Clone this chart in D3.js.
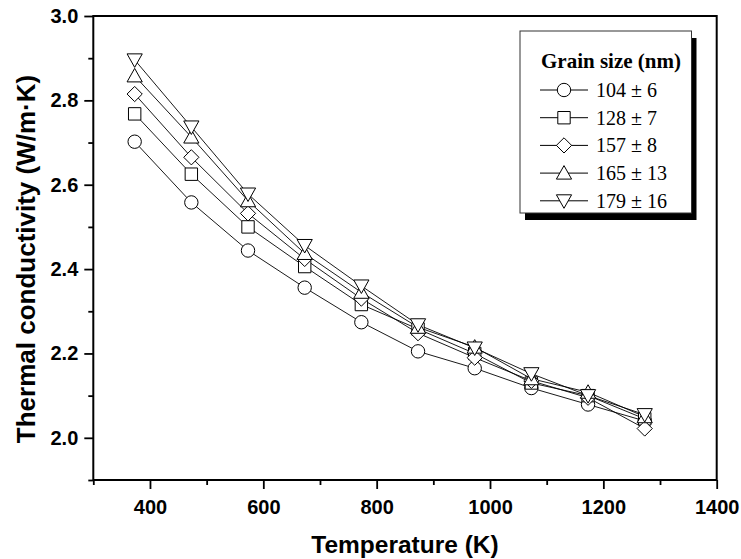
<!DOCTYPE html>
<html>
<head>
<meta charset="utf-8">
<script src="https://cdn.jsdelivr.net/npm/d3@7"></script>
<style>
  body { margin: 0; background: #fff; }
</style>
</head>
<body>
<svg id="chart" width="741" height="559"></svg>
<script>
const svg = d3.select('#chart')

// data
const temps = [373, 473, 573, 673, 773, 873, 973, 1073, 1173, 1273]
const grainLabels = ['104 \u00b1 6', '128 \u00b1 7', '157 \u00b1 8', '165 \u00b1 13', '179 \u00b1 16']
const k104 = [2.702, 2.558, 2.444, 2.356, 2.274, 2.205, 2.165, 2.118, 2.079, 2.040]
const k128 = [2.768, 2.625, 2.500, 2.406, 2.316, 2.258, 2.200, 2.130, 2.100, 2.045]
const k157 = [2.815, 2.665, 2.532, 2.424, 2.330, 2.248, 2.190, 2.135, 2.095, 2.022]
const k165 = [2.858, 2.713, 2.562, 2.437, 2.345, 2.262, 2.215, 2.140, 2.108, 2.050]
const k179 = [2.896, 2.737, 2.578, 2.456, 2.360, 2.268, 2.213, 2.152, 2.100, 2.055]
const xMajor = [400, 600, 800, 1000, 1200, 1400]
const xMinor = [300, 500, 700, 900, 1100, 1300]
const yMajor = [2.0, 2.2, 2.4, 2.6, 2.8, 3.0]
const yMinor = [1.9, 2.1, 2.3, 2.5, 2.7, 2.9]

const series = [k104, k128, k157, k165, k179]
const shapes = ['circle', 'square', 'diamond', 'up', 'down']

const padL = 93.3, padR = 716.7, padT = 16, padB = 480
const sans = '"Liberation Sans", Arial, sans-serif'
const serif = '"Liberation Serif", "Times New Roman", serif'

const x = d3.scaleLinear().domain([300, 1400]).range([padL, padR])
const y = d3.scaleLinear().domain([1.9, 3.0]).range([padB, padT])

// marker outlines
const markerPath = (shape) => {
	if (shape == 'circle') return d3.arc()({innerRadius: 0, outerRadius: 6.7, startAngle: 0, endAngle: 2 * Math.PI})
	if (shape == 'square') return 'M-6.2,-6.2H6.2V6.2H-6.2Z'
	if (shape == 'diamond') return 'M0,-7.6L7.6,0L0,7.6L-7.6,0Z'
	if (shape == 'up') return 'M0,-7.5L7.6,6L-7.6,6Z'
	return 'M0,7.5L7.6,-6L-7.6,-6Z'
}

// minor ticks
svg.append('g')
	.attr('transform', `translate(0, ${padB})`)
	.call(d3.axisBottom(x).tickValues(xMinor).tickSize(5).tickFormat(''))
svg.append('g')
	.attr('transform', `translate(${padL}, 0)`)
	.call(d3.axisLeft(y).tickValues(yMinor).tickSize(5).tickFormat(''))

// major ticks with labels
const xAxis = svg.append('g')
	.attr('transform', `translate(0, ${padB})`)
	.call(d3.axisBottom(x).tickValues(xMajor).tickSize(9).tickPadding(11).tickFormat(d3.format('d')))
const yAxis = svg.append('g')
	.attr('transform', `translate(${padL}, 0)`)
	.call(d3.axisLeft(y).tickValues(yMajor).tickSize(9).tickPadding(6).tickFormat(d3.format('.1f')))

svg.selectAll('.domain').remove()
svg.selectAll('.tick line').attr('stroke', '#000').attr('stroke-width', 1.8)
svg.selectAll('.tick text')
	.attr('fill', '#000')
	.style('font-family', sans)
	.style('font-weight', 'bold')
	.style('font-size', '20px')

// frame
svg.append('rect')
	.attr('x', padL).attr('y', padT)
	.attr('width', padR - padL).attr('height', padB - padT)
	.attr('fill', 'none').attr('stroke', '#000').attr('stroke-width', 2)

// series
const line = d3.line().x((d, i) => x(temps[i])).y(d => y(d))

series.forEach(function(vals, s) {
	svg.append('path')
		.attr('d', line(vals))
		.attr('fill', 'none')
		.attr('stroke', '#000')
		.attr('stroke-width', 0.9)
})
series.forEach(function(vals, s) {
	svg.append('g').selectAll('path')
		.data(vals)
		.enter()
		.append('path')
			.attr('transform', (d, i) => `translate(${x(temps[i])}, ${y(d)})`)
			.attr('d', markerPath(shapes[s]))
			.attr('fill', '#fff')
			.attr('stroke', '#000')
			.attr('stroke-width', 1)
})

// axis titles
svg.append('text')
	.attr('x', (padL + padR) / 2).attr('y', 553)
	.attr('text-anchor', 'middle')
	.style('font-family', sans).style('font-weight', 'bold').style('font-size', '24.5px')
	.text('Temperature (K)')

svg.append('text')
	.attr('transform', `translate(35, 259) rotate(-90)`)
	.attr('text-anchor', 'middle')
	.style('font-family', sans).style('font-weight', 'bold').style('font-size', '26px')
	.text('Thermal conductivity (W/m\u00b7K)')

// legend
const lg = svg.append('g').attr('transform', 'translate(520, 31)')
lg.append('rect')
	.attr('x', 5).attr('y', 7).attr('width', 171.5).attr('height', 182)
	.attr('fill', '#000')
lg.append('rect')
	.attr('x', 0).attr('y', 0).attr('width', 171.5).attr('height', 182)
	.attr('fill', '#fff').attr('stroke', '#333').attr('stroke-width', 1)
lg.append('text')
	.attr('x', 21).attr('y', 37)
	.style('font-family', serif).style('font-weight', 'bold').style('font-size', '21px')
	.text('Grain size (nm)')

const rows = lg.selectAll('g.row')
	.data(grainLabels)
	.enter()
	.append('g')
		.attr('class', 'row')
		.attr('transform', (d, i) => `translate(0, ${59 + i * 27.7})`)
rows.append('line')
	.attr('x1', 20).attr('x2', 68)
	.attr('stroke', '#000').attr('stroke-width', 1)
rows.append('path')
	.attr('transform', 'translate(44, 0)')
	.attr('d', (d, i) => markerPath(shapes[i]))
	.attr('fill', '#fff').attr('stroke', '#000').attr('stroke-width', 1)
rows.append('text')
	.attr('x', 76).attr('y', 7)
	.style('font-family', serif).style('font-size', '20px')
	.text(d => d)
</script>
</body>
</html>
